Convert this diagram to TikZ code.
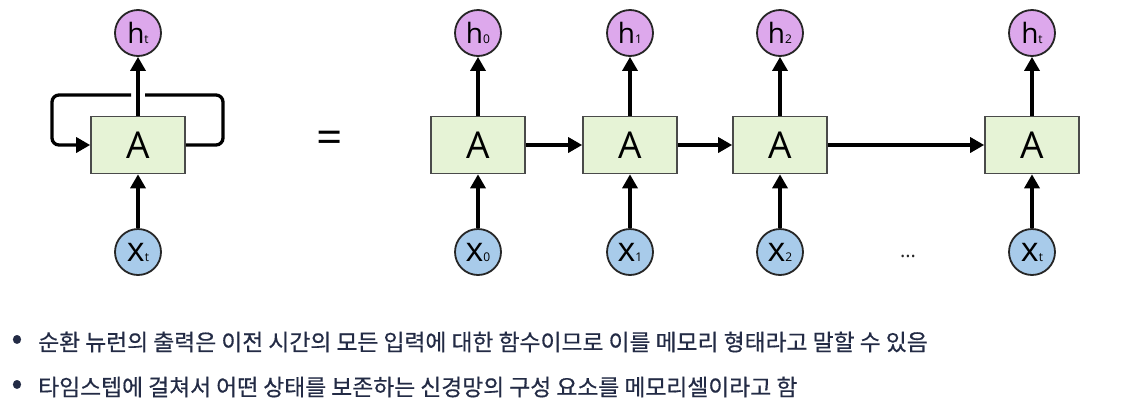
\documentclass[tikz,border=0pt]{standalone}
\usepackage{fontspec}
\setmainfont{Open Sans}
\newfontfamily\krfont[FakeBold=0.5]{Noto Sans CJK KR}
\usetikzlibrary{arrows.meta,positioning}
\definecolor{cellgreen}{HTML}{E6F3D6}
\definecolor{outpurple}{HTML}{DDA8EC}
\definecolor{inblue}{HTML}{A8CBEA}
\definecolor{edgegray}{HTML}{4A4A4A}
\definecolor{bodytext}{HTML}{232B45}
\newcommand{\idx}[1]{{\fontsize{12}{12}\selectfont #1}}

\tikzset{
  cell/.style={draw=edgegray, line width=1.6pt, fill=cellgreen,
    minimum width=94pt, minimum height=57pt, font=\fontsize{37}{37}\selectfont},
  hcirc/.style={circle, draw=black!85, line width=1.8pt, fill=outpurple,
    minimum size=46pt, inner sep=0pt, font=\fontsize{28}{28}\selectfont},
  xcirc/.style={hcirc, fill=inblue, font=\fontsize{34}{34}\selectfont},
  link/.style={line width=3.3pt, -{Triangle[length=14pt,width=15pt]}},
  loopline/.style={line width=3.3pt, rounded corners=7pt},
  bullet/.style={anchor=west, inner sep=0pt, text=bodytext,
    font=\krfont\fontsize{22.8}{22.8}\selectfont},
  dot/.style={bullet, anchor=center, font=\krfont\fontsize{32}{32}\selectfont},
}

\begin{document}
\begin{tikzpicture}[x=1pt, y=-1pt]
  \useasboundingbox (0,0) rectangle (1130,405);

  % folded network
  \node[cell] (Ar) at (138,145) {A};
  \node[hcirc] (hr) at (138,33) {h\idx{t}};
  \node[xcirc] (xr) at (138,252) {x\idx{t}};
  \draw[link] (xr) -- (Ar);
  \draw[link] (Ar) -- (hr);
  \coordinate (loopNE) at (223,95);
  \coordinate (loopR) at (145,95);
  \coordinate (loopL) at (131,95);
  \coordinate (loopNW) at (52,95);
  \draw[loopline] (Ar.east) -| (loopNE) -- (loopR);
  \draw[loopline, link] (loopL) -- (loopNW) |- (Ar.west);

  \node[font=\fontsize{46}{46}\selectfont] (eq) at (330,142) {=};

  % unrolled network
  \foreach \i/\x/\lab in {0/478/0, 1/630/1, 2/780/2, 3/1032/t} {
    \node[cell] (A\i) at (\x,145) {A};
    \node[hcirc] (h\i) at (\x,33) {h\idx{\lab}};
    \node[xcirc] (x\i) at (\x,252) {x\idx{\lab}};
    \draw[link] (x\i) -- (A\i);
    \draw[link] (A\i) -- (h\i);
  }
  \foreach \a/\b in {0/1, 1/2, 2/3}
    \draw[link] (A\a) -- (A\b);
  \node[font=\fontsize{20}{20}\selectfont, text=black!85] (dots) at (908,256) {...};

  % notes
  \node[dot] (b1) at (17,342) {•};
  \node[bullet] (t1) at (38,342) {순환 뉴런의 출력은 이전 시간의 모든 입력에 대한 함수이므로 이를 메모리 형태라고 말할 수 있음};
  \node[dot] (b2) at (17,387) {•};
  \node[bullet] (t2) at (38,387) {타임스텝에 걸쳐서 어떤 상태를 보존하는 신경망의 구성 요소를 메모리셀이라고 함};
\end{tikzpicture}
\end{document}
